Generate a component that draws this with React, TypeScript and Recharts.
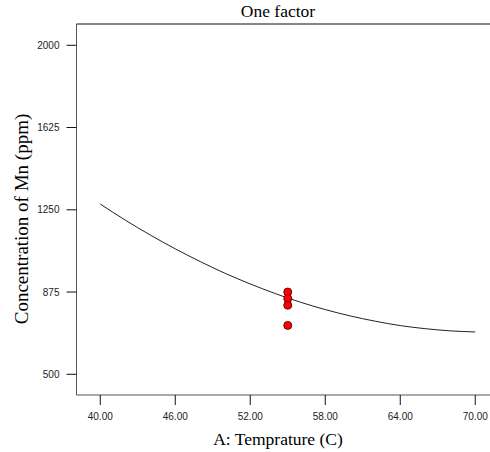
import React from "react";
import { ComposedChart, Line, Scatter, XAxis, YAxis, ReferenceLine } from "recharts";

const curveTemp = [40, 42, 44, 46, 48, 50, 52, 54, 56, 58, 60, 62, 64, 66, 68, 70];
const curveMn = [1276, 1203, 1135, 1072, 1014, 960, 912, 868, 829, 795, 766, 742, 722, 708, 698, 693];
const pointTemp = [55, 55, 55, 55];
const pointMn = [875, 845, 815, 723];
const xTicks = [40, 46, 52, 58, 64, 70];
const yTicks = [500, 875, 1250, 1625, 2000];

const curveData = curveTemp.map((t, i) => ({ t, mn: curveMn[i] }));
const pointData = pointTemp.map((t, i) => ({ t, mn: pointMn[i] }));

const X_DOMAIN: [number, number] = [38.1, 71.9];
const Y_DOMAIN: [number, number] = [405.6, 2097];
const axisColor = "#555";
const tickStyle = { fontFamily: "Liberation Sans, Arial, sans-serif", fontSize: 10, fill: "#222" };
const serif = "Liberation Serif, Times New Roman, serif";

export default function App() {
  return (
    <div
      style={{
        position: "fixed",
        left: 0,
        top: 0,
        width: 490,
        height: 452,
        overflow: "hidden",
        background: "#fff",
      }}
    >
      <ComposedChart
        width={508}
        height={452}
        margin={{ top: 24, right: 9, bottom: 0, left: 8 }}
      >
        <XAxis
          dataKey="t"
          type="number"
          domain={X_DOMAIN}
          ticks={xTicks}
          allowDataOverflow
          tickFormatter={(v: number) => v.toFixed(2)}
          tick={tickStyle}
          tickSize={10}
          tickMargin={8}
          height={57}
          stroke={axisColor}
          tickLine={{ stroke: "#111" }}
        />
        <YAxis
          dataKey="mn"
          type="number"
          domain={Y_DOMAIN}
          ticks={yTicks}
          allowDataOverflow
          tick={tickStyle}
          tickSize={10}
          tickMargin={7}
          width={68.5}
          stroke={axisColor}
          tickLine={{ stroke: "#111" }}
        />
        <ReferenceLine y={Y_DOMAIN[1]} stroke="#111" strokeWidth={1.2} ifOverflow="visible" />
        <Line
          data={curveData}
          dataKey="mn"
          type="monotone"
          stroke="#222"
          strokeWidth={1}
          dot={false}
          isAnimationActive={false}
        />
        <Scatter
          data={pointData}
          dataKey="mn"
          fill="#ff0000"
          stroke="#500"
          strokeWidth={0.9}
          shape={(p: any) => <circle cx={p.cx} cy={p.cy} r={4} fill="#ff0000" stroke="#500" strokeWidth={0.9} />}
          isAnimationActive={false}
        />
      </ComposedChart>
      <svg
        width={490}
        height={452}
        style={{ position: "absolute", left: 0, top: 0, pointerEvents: "none" }}
      >
        <text x={278} y={17} textAnchor="middle" fontFamily={serif} fontSize={17.5} fill="#000">
          One factor
        </text>
        <text x={278} y={445} textAnchor="middle" fontFamily={serif} fontSize={17.5} fill="#000">
          A: Temprature (C)
        </text>
        <text
          x={0}
          y={0}
          transform="translate(28,219) rotate(-90)"
          textAnchor="middle"
          fontFamily={serif}
          fontSize={19}
          fill="#000"
        >
          Concentration of Mn (ppm)
        </text>
      </svg>
    </div>
  );
}
